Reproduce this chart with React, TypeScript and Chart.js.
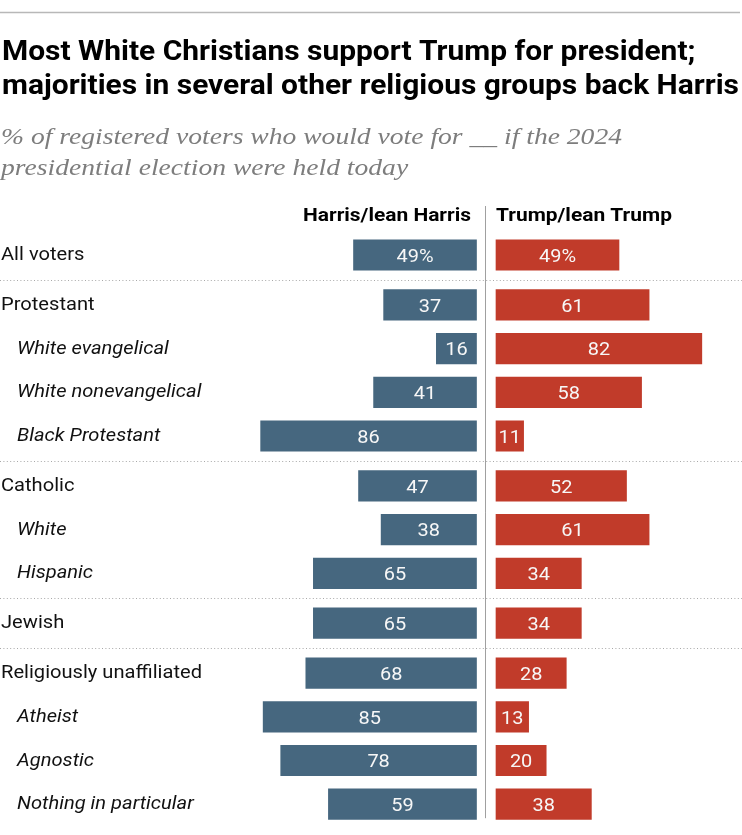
import React, { useEffect, useRef } from "react";
import { Chart, registerables } from "chart.js";

Chart.register(...registerables);

// ---------- data ----------
const categories = [
  "All voters",
  "Protestant",
  "White evangelical",
  "White nonevangelical",
  "Black Protestant",
  "Catholic",
  "White",
  "Hispanic",
  "Jewish",
  "Religiously unaffiliated",
  "Atheist",
  "Agnostic",
  "Nothing in particular",
];
const groupIndex = [0, 1, 1, 1, 1, 2, 2, 2, 3, 4, 4, 4, 4];
const isSubgroup = [false, false, true, true, true, false, true, true, false, false, true, true, true];
const harrisValues = [49, 37, 16, 41, 86, 47, 38, 65, 65, 68, 85, 78, 59];
const trumpValues = [49, 61, 82, 58, 11, 52, 61, 34, 34, 28, 13, 20, 38];
const seriesNames = ["Harris/lean Harris", "Trump/lean Trump"];
const titleLines = [
  "Most White Christians support Trump for president;",
  "majorities in several other religious groups back Harris",
];
const subtitleLines = [
  "% of registered voters who would vote for __ if the 2024",
  "presidential election were held today",
];

// ---------- layout ----------
const W = 742;
const H = 835;
const CENTER_X = 486.25;
const PX_PER_PCT = 2.51;
const HALF_GAP_PX = 9.75;
const ROW_PX = 43.7;
const ROW0_Y = 255;
const GROUP_GAP_PX = 6.2;
const Y_MIN = -0.6;
const Y_MAX = 13;
const HARRIS_COLOR = "#46677f";
const TRUMP_COLOR = "#c13b2a";
const SANS = "Roboto, 'Noto Sans', sans-serif";
const SERIF = "'Liberation Serif', 'DejaVu Serif', serif";

const halfGap = HALF_GAP_PX / PX_PER_PCT;
const rowPos = categories.map((_, i) => i + (groupIndex[i] * GROUP_GAP_PX) / ROW_PX);

function drawScaled(
  ctx: CanvasRenderingContext2D,
  text: string,
  x: number,
  y: number,
  align: CanvasTextAlign,
  sx: number
) {
  ctx.save();
  ctx.translate(x, y);
  ctx.scale(sx, 1);
  ctx.textAlign = align;
  ctx.textBaseline = "alphabetic";
  ctx.fillText(text, 0, 0);
  ctx.restore();
}

function fitScale(ctx: CanvasRenderingContext2D, font: string, text: string, target: number) {
  ctx.save();
  ctx.font = font;
  const w = ctx.measureText(text).width;
  ctx.restore();
  return w > 0 ? target / w : 1;
}

const decorPlugin = {
  id: "pewDecor",
  beforeDatasetsDraw(chart: any) {
    const ctx: CanvasRenderingContext2D = chart.ctx;
    const xs = chart.scales.x;
    const ys = chart.scales.y;
    ctx.save();
    // top rule
    ctx.strokeStyle = "#b8b8b8";
    ctx.lineWidth = 1.5;
    ctx.beginPath();
    ctx.moveTo(0, 12.5);
    ctx.lineTo(740, 12.5);
    ctx.stroke();
    // dotted separators between groups
    ctx.strokeStyle = "#a8a8a8";
    ctx.lineWidth = 1;
    ctx.setLineDash([1, 2.4]);
    for (let i = 1; i < categories.length; i++) {
      if (groupIndex[i] !== groupIndex[i - 1]) {
        const yy =
          Math.round((ys.getPixelForValue(rowPos[i - 1]) + ys.getPixelForValue(rowPos[i])) / 2) + 0.5;
        ctx.beginPath();
        ctx.moveTo(0, yy);
        ctx.lineTo(W, yy);
        ctx.stroke();
      }
    }
    ctx.setLineDash([]);
    // center line
    const cx = Math.round(xs.getPixelForValue(0)) - 0.5;
    const bottom = ys.getPixelForValue(rowPos[rowPos.length - 1]) + 14;
    ctx.strokeStyle = "#a0a0a0";
    ctx.beginPath();
    ctx.moveTo(cx, 206);
    ctx.lineTo(cx, bottom);
    ctx.stroke();
    ctx.restore();
  },
  afterDatasetsDraw(chart: any) {
    const ctx: CanvasRenderingContext2D = chart.ctx;
    const ys = chart.scales.y;
    const xs = chart.scales.x;
    ctx.save();

    // title
    const titleFont = `bold 28px ${SANS}`;
    const tsx = fitScale(ctx, titleFont, titleLines[1], 737);
    ctx.font = titleFont;
    ctx.fillStyle = "#000000";
    drawScaled(ctx, titleLines[0], 2, 59.5, "left", tsx);
    drawScaled(ctx, titleLines[1], 2, 93.5, "left", tsx);

    // subtitle
    const subFont = `italic 24px ${SERIF}`;
    const ssx = fitScale(ctx, subFont, subtitleLines[0], 621);
    ctx.font = subFont;
    ctx.fillStyle = "#7d7d7d";
    drawScaled(ctx, subtitleLines[0], 1, 144, "left", ssx);
    drawScaled(ctx, subtitleLines[1], 1, 175, "left", ssx);

    // column headers
    const headFont = `bold 18px ${SANS}`;
    const hsx = fitScale(ctx, headFont, seriesNames[0], 168);
    ctx.font = headFont;
    ctx.fillStyle = "#000000";
    drawScaled(ctx, seriesNames[0], xs.getPixelForValue(-halfGap) - 5.5, 221, "right", hsx);
    drawScaled(ctx, seriesNames[1], xs.getPixelForValue(halfGap), 221, "left", hsx);

    // row labels
    const labFont = `18.5px ${SANS}`;
    const lsx = fitScale(ctx, labFont, categories[9], 201);
    ctx.fillStyle = "#111111";
    categories.forEach((c, i) => {
      ctx.font = isSubgroup[i] ? `italic ${labFont}` : labFont;
      const yy = ys.getPixelForValue(rowPos[i]) + 5;
      drawScaled(ctx, c, isSubgroup[i] ? 17 : 1, yy, "left", lsx);
    });

    // value labels
    ctx.font = `19px ${SANS}`;
    ctx.fillStyle = "#f7f7f7";
    chart.data.datasets.forEach((ds: any, di: number) => {
      const meta = chart.getDatasetMeta(di);
      const vals = di === 0 ? harrisValues : trumpValues;
      meta.data.forEach((bar: any, i: number) => {
        const mid = (bar.x + bar.base) / 2;
        const txt = i === 0 ? `${vals[i]}%` : `${vals[i]}`;
        drawScaled(ctx, txt, mid, bar.y + 6.7, "center", 1.05);
      });
    });
    ctx.restore();
  },
};

export default function App() {
  const ref = useRef<HTMLCanvasElement | null>(null);
  useEffect(() => {
    if (!ref.current) return;
    const padTop = ROW0_Y + Y_MIN * ROW_PX;
    const padBottom = H - (ROW0_Y + Y_MAX * ROW_PX);
    const chart = new Chart(ref.current, {
      type: "bar",
      data: {
        datasets: [
          {
            label: seriesNames[0],
            data: harrisValues.map((v, i) => ({ x: [-halfGap - v, -halfGap], y: rowPos[i] })),
            backgroundColor: HARRIS_COLOR,
            grouped: false,
            barThickness: 30.5,
          } as any,
          {
            label: seriesNames[1],
            data: trumpValues.map((v, i) => ({ x: [halfGap, halfGap + v], y: rowPos[i] })),
            backgroundColor: TRUMP_COLOR,
            grouped: false,
            barThickness: 30.5,
          } as any,
        ],
      },
      options: {
        indexAxis: "y",
        animation: false,
        responsive: false,
        devicePixelRatio: 1,
        layout: { padding: { left: 0, right: 0, top: padTop, bottom: padBottom } },
        scales: {
          x: {
            type: "linear",
            display: false,
            offset: false,
            min: -CENTER_X / PX_PER_PCT,
            max: (W - CENTER_X) / PX_PER_PCT,
          },
          y: {
            type: "linear",
            display: false,
            offset: false,
            reverse: true,
            min: Y_MIN,
            max: Y_MAX,
          },
        },
        plugins: {
          legend: { display: false },
          tooltip: { enabled: false },
          title: { display: false },
        },
      },
      plugins: [decorPlugin],
    } as any);
    return () => chart.destroy();
  }, []);

  return (
    <div style={{ position: "absolute", left: 0, top: 0, width: W, height: H, background: "#ffffff" }}>
      <canvas ref={ref} width={W} height={H} style={{ display: "block", width: W, height: H }} />
    </div>
  );
}
